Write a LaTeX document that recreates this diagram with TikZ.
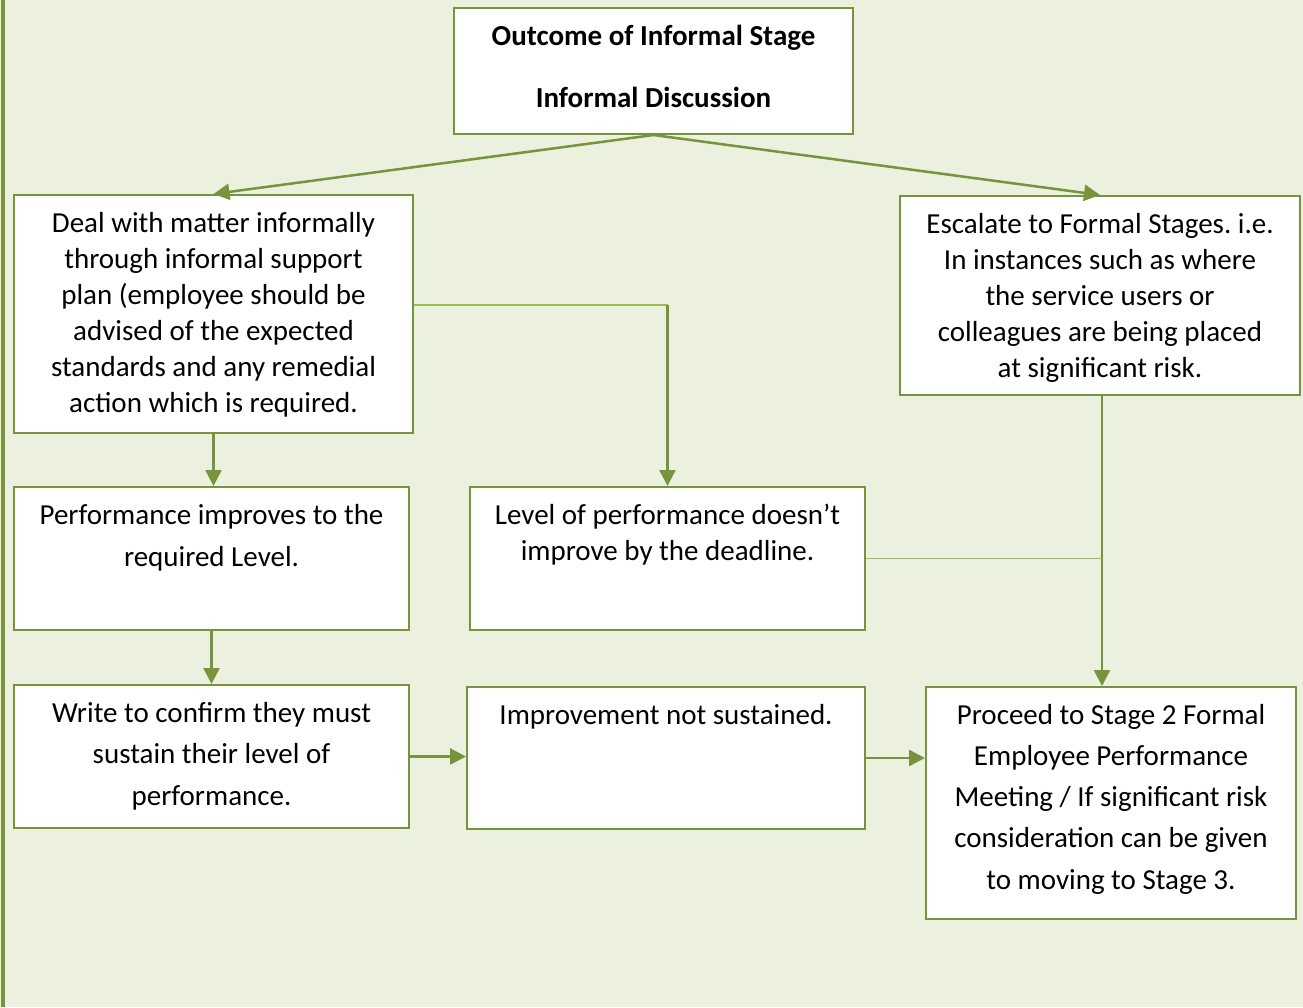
\documentclass[tikz,border=0pt]{standalone}
\usepackage{fontspec}
\setmainfont{Carlito}
\frenchspacing
\usetikzlibrary{arrows.meta}
\definecolor{stageline}{HTML}{77933C}
\definecolor{joinline}{HTML}{9BBB59}
\definecolor{pagewash}{HTML}{EBF1DE}
% box contents: width, height, line spacing, text
\newcommand{\boxtext}[4]{\parbox[t][#2][t]{#1}{\centering\fontsize{29}{#3}\selectfont\rule{0pt}{37pt}#4}}
\tikzset{
   stagebox/.style={draw=stageline, line width=2pt, fill=white, inner sep=0pt, anchor=north west},
   flow/.style={draw=stageline, line width=2.5pt, -{Triangle[length=16pt,width=16pt]}},
   joiner/.style={draw=joinline, line width=1.5pt},
    }

\begin{document}
\begin{tikzpicture}[x=1pt,y=-1pt]
            \fill[pagewash] (0,0) rectangle (1303,1007);
            \useasboundingbox (0,0) rectangle (1303,1007);
            \draw[stageline, line width=4pt] (3,0) -- (3,1007);

            \node[stagebox] (outcome) at (453,7)
               {\boxtext{399pt}{126pt}{62pt}{\bfseries Outcome of Informal Stage\\Informal Discussion}};
            \node[stagebox] (informal) at (13,194)
               {\boxtext{399pt}{238pt}{36pt}{Deal with matter informally\\through informal support\\plan (employee should be\\advised of the expected\\standards and any remedial\\action which is required.}};
            \node[stagebox] (escalate) at (899,195)
               {\boxtext{400pt}{199pt}{36pt}{Escalate to Formal Stages. i.e.\\In instances such as where\\the service users or\\colleagues are being placed\\at significant risk.}};
            \node[stagebox] (improves) at (13,486)
               {\boxtext{395pt}{143pt}{42pt}{Performance improves to the\\required Level.}};
            \node[stagebox] (nochange) at (469,486)
               {\boxtext{395pt}{143pt}{36pt}{Level of performance doesn’t\\improve by the deadline.}};
            \node[stagebox] (confirm) at (13,684)
               {\boxtext{395pt}{143pt}{41.5pt}{Write to confirm they must\\sustain their level of\\performance.}};
            \node[stagebox] (notkept) at (466,686)
               {\boxtext{398pt}{142pt}{36pt}{Improvement not sustained.}};
            \node[stagebox] (proceed) at (925,686)
               {\boxtext{370pt}{232pt}{41.25pt}{Proceed to Stage 2 Formal\\Employee Performance\\Meeting / If significant risk\\consideration can be given\\to moving to Stage 3.}};

            % branches from the discussion
            \draw[flow] (outcome.south) -- (informal.north);
            \draw[flow] (outcome.south) -- (escalate.north);
            \draw[flow] (informal.south) -- (informal.south |- improves.north);
            \draw[flow] (improves.south) -- (improves.south |- confirm.north);

            % deadline missed
            \coordinate (bend) at (nochange.north |- 0,305);
            \draw[joiner] (informal.east |- bend) -- (bend);
            \draw[flow] (bend) -- (nochange.north);

            % into the formal stages
            \coordinate (drop) at ([xshift=2pt]escalate.south);
            \coordinate (merge) at (drop |- nochange.east);
            \draw[flow] (drop) -- (drop |- proceed.north);
            \draw[joiner] (nochange.east) -- (merge);
            \draw[flow] (confirm.east) -- (confirm.east -| notkept.west);
            \draw[flow] (notkept.east) -- (notkept.east -| proceed.west);

        \end{tikzpicture}
\end{document}
